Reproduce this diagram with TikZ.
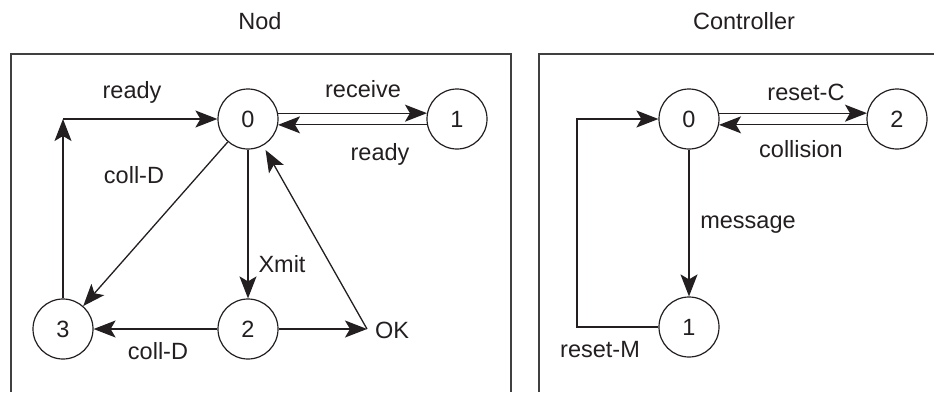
\documentclass[tikz,border=0pt]{standalone}
\usepackage{fontspec}
\setmainfont{Liberation Sans}
\usetikzlibrary{arrows.meta}
\definecolor{ink}{HTML}{231F20}

\begin{document}
\begin{tikzpicture}[x=1pt, y=-1pt,
    every node/.style={text=ink, font=\fontsize{23.5}{28}\selectfont},
    state/.style={circle, draw=ink, line width=1.2pt, minimum size=60pt, inner sep=0pt},
    lbl/.style={text height=16pt, text depth=5pt, inner sep=0pt},
    arr/.style={draw=ink, line width=1.3pt, -{Stealth[length=22pt, width=17pt, inset=5pt]}},
    frame/.style={draw=black!75, line width=1.4pt}]
    \useasboundingbox (0,0) rectangle (934,392);

    % Titles and frames
    \node[lbl] (tnod) at (260,24) {Nod};
    \node[lbl] (tctrl) at (744,24) {Controller};
    \draw[frame] (11,392) |- (511,54) -- (511,392);
    \draw[frame] (539,392) |- (934,54);

    % Nod states
    \node[state] (n0) at (248,119) {0};
    \node[state] (n1) at (457,119) {1};
    \node[state] (n2) at (248,329) {2};
    \node[state] (n3) at (63,329) {3};
    \coordinate (ok) at (367,329);
    \coordinate (c3) at (63,119);
    \node[lbl, anchor=west] (okl) at (375,332.5) {OK};

    % Nod transitions
    \draw[arr] (n0.11) -- (n1.169);
    \draw[arr] (n1.191) -- (n0.-11);
    \draw[arr] (n3) -- (c3);
    \draw[arr] (c3) -- (n0);
    \draw[arr] (n0) -- (n3);
    \draw[arr] (n0) -- (n2);
    \draw[arr] (n2) -- (n3);
    \draw[arr] (n2) -- (ok);
    \draw[arr, shorten >=5pt] (ok) -- (n0);

    % Nod labels
    \node[lbl] (lrecv) at (363,91.5) {receive};
    \node[lbl] (lready1) at (380,154.5) {ready};
    \node[lbl] (lready3) at (132,92.5) {ready};
    \node[lbl] (lcolld0) at (134,177.5) {coll-D};
    \node[lbl] (lxmit) at (282,266.5) {Xmit};
    \node[lbl] (lcolld2) at (158,353.5) {coll-D};

    % Controller states
    \node[state] (m0) at (689,119) {0};
    \node[state] (m2) at (897,119) {2};
    \node[state] (m1) at (689,327) {1};
    \coordinate (cm) at (577,119);

    % Controller transitions
    \draw[arr] (m0.11) -- (m2.169);
    \draw[arr] (m2.191) -- (m0.-11);
    \draw[arr] (m0) -- (m1);
    \draw[arr] (m1.west) -| (cm) -- (m0.west);

    % Controller labels
    \node[lbl] (lresetc) at (806,94.5) {reset-C};
    \node[lbl] (lcoll) at (801,151.5) {collision};
    \node[lbl] (lmsg) at (748,222.5) {message};
    \node[lbl] (lresetm) at (600,351.5) {reset-M};
\end{tikzpicture}
\end{document}
